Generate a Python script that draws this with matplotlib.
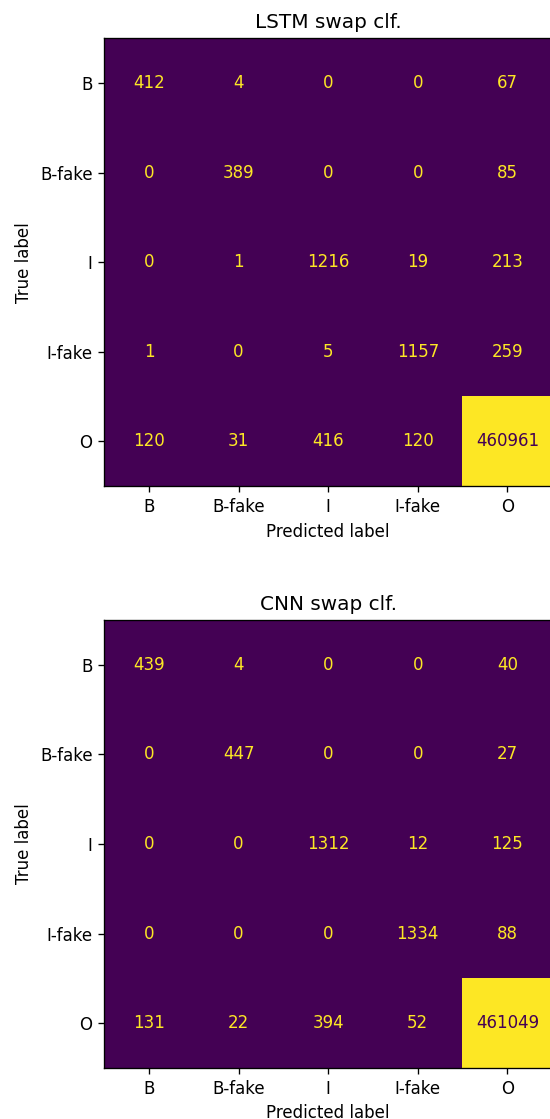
import numpy as np
import matplotlib.pyplot as plt

labels = ['B', 'B-fake', 'I', 'I-fake', 'O']

lstm_cm = np.array([[412, 4, 0, 0, 67],
                    [0, 389, 0, 0, 85],
                    [0, 1, 1216, 19, 213],
                    [1, 0, 5, 1157, 259],
                    [120, 31, 416, 120, 460961]])

cnn_cm = np.array([[439, 4, 0, 0, 40],
                   [0, 447, 0, 0, 27],
                   [0, 0, 1312, 12, 125],
                   [0, 0, 0, 1334, 88],
                   [131, 22, 394, 52, 461049]])

titles = ['LSTM swap clf.', 'CNN swap clf.']


def plot_cm(ax, cm, title):
    cmap = plt.get_cmap('viridis')
    ax.imshow(cm, cmap=cmap, aspect='auto', interpolation='nearest')
    thresh = (cm.max() + cm.min()) / 2.0
    for i in range(cm.shape[0]):
        for j in range(cm.shape[1]):
            # dark text on the bright cell, yellow on the dark ones
            color = cmap(0.0) if cm[i, j] > thresh else cmap(1.0)
            ax.text(j, i, str(cm[i, j]), ha='center', va='center', color=color, fontsize=10)
    ax.set_xticks(range(len(labels)))
    ax.set_xticklabels(labels)
    ax.set_yticks(range(len(labels)))
    ax.set_yticklabels(labels)
    ax.set_xlabel('Predicted label')
    ax.set_ylabel('True label')
    ax.set_title(title)


# rendered at 120 dpi so everything is a bit larger, like the original
fig = plt.figure(figsize=(550 / 120, 1119 / 120), dpi=120)
ax1 = fig.add_axes([0.1895, 0.5655, 0.8145, 0.4004])
ax2 = fig.add_axes([0.1895, 0.0455, 0.8145, 0.4004])
plot_cm(ax1, lstm_cm, titles[0])
plot_cm(ax2, cnn_cm, titles[1])
fig.savefig('out.png', dpi=120)
